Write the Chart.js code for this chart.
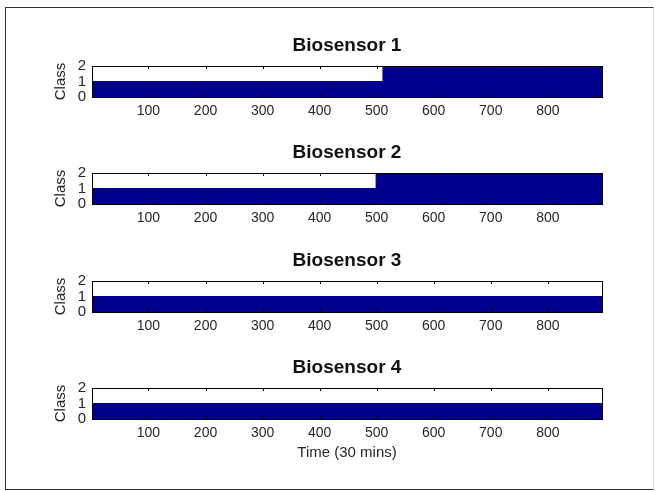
<!DOCTYPE html>
<html>
<head>
<meta charset="utf-8">
<script src="https://cdn.jsdelivr.net/npm/chart.js@4.4.0/dist/chart.umd.min.js"></script>
<style>
  body { margin: 0; background: #fff; width: 657px; height: 491px; overflow: hidden; position: relative; }
  #frame { position: absolute; left: 5px; top: 7px; width: 647px; height: 481px;
           border: 1px solid #333; border-right-color: #ddd; }
  canvas { position: absolute; left: 0; }
</style>
</head>
<body>
<div id="frame"></div>
<canvas id="c1" width="657" height="101" style="top:26px"></canvas>
<canvas id="c2" width="657" height="101" style="top:133px"></canvas>
<canvas id="c3" width="657" height="101" style="top:241px"></canvas>
<canvas id="c4" width="657" height="118" style="top:348px"></canvas>
<script>
// titles
const sensorNames = ['Biosensor 1', 'Biosensor 2', 'Biosensor 3', 'Biosensor 4'];

// class value per sensor, held from each change time until the next one
const times1 = [1, 511, 895];
const classes1 = [1, 2, 2];
const times2 = [1, 499, 895];
const classes2 = [1, 2, 2];
const times3 = [1, 895];
const classes3 = [1, 1];
const times4 = [1, 895];
const classes4 = [1, 1];

const xTicks = [100, 200, 300, 400, 500, 600, 700, 800];
const yTicks = [0, 1, 2];

const navy = '#00008f';
const ink = '#262626';
const sans = "'Liberation Sans', Arial, sans-serif";

// plot box and inward tick marks, like the matlab figure
const boxPlugin = {
    id: 'box',
    afterDatasetsDraw(chart) {
        const { ctx, chartArea: a, scales } = chart;
        ctx.save();
        ctx.strokeStyle = '#000';
        ctx.lineWidth = 1;
        ctx.beginPath();
        xTicks.forEach(v => {
            const px = Math.round(scales.x.getPixelForValue(v)) + 0.5;
            ctx.moveTo(px, a.top);
            ctx.lineTo(px, a.top + 3);
            ctx.moveTo(px, a.bottom);
            ctx.lineTo(px, a.bottom - 3);
        });
        yTicks.forEach(v => {
            const py = Math.round(scales.y.getPixelForValue(v)) + 0.5;
            ctx.moveTo(a.left, py);
            ctx.lineTo(a.left + 3, py);
            ctx.moveTo(a.right, py);
            ctx.lineTo(a.right - 3, py);
        });
        ctx.stroke();
        ctx.strokeRect(Math.round(a.left) + 0.5, Math.round(a.top) + 0.5,
                       Math.round(a.right - a.left), Math.round(a.bottom - a.top));
        ctx.restore();
    }
};

function makeChart(id, name, times, classes, last) {
    const ctx = document.getElementById(id).getContext('2d');
    return new Chart(ctx, {
        type: 'line',
        data: {
            datasets: [{
                label: name,
                data: times.map((t, i) => ({ x: t, y: classes[i] })),
                stepped: true,
                fill: 'origin',
                backgroundColor: navy,
                borderColor: navy,
                borderWidth: 1,
                pointRadius: 0
            }]
        },
        options: {
            responsive: false,
            animation: false,
            devicePixelRatio: 1,
            layout: { padding: { left: 0, right: 55, top: 0, bottom: 0 } },
            plugins: {
                legend: { display: false },
                tooltip: { enabled: false },
                title: {
                    display: true,
                    fullSize: false,
                    text: name,
                    color: '#111',
                    font: { family: sans, size: 19, weight: 'bold' },
                    padding: { top: 8.6, bottom: 8.6 }
                }
            },
            scales: {
                x: {
                    type: 'linear',
                    min: 1,
                    max: 895,
                    grid: { display: false, drawTicks: false },
                    border: { display: false },
                    afterBuildTicks: s => { s.ticks = xTicks.map(v => ({ value: v })); },
                    afterFit: s => { s.height = last ? 47 : 30; },
                    ticks: {
                        autoSkip: false,
                        maxRotation: 0,
                        padding: 6,
                        color: ink,
                        font: { family: sans, size: 14 }
                    },
                    title: {
                        display: last,
                        text: 'Time (30 mins)',
                        color: ink,
                        font: { family: sans, size: 15 },
                        padding: { top: 0, bottom: 4 }
                    }
                },
                y: {
                    min: 0,
                    max: 2,
                    grid: { display: false, drawTicks: false },
                    border: { display: false },
                    afterBuildTicks: s => { s.ticks = yTicks.map(v => ({ value: v })); },
                    afterFit: s => { s.width = 92; },
                    ticks: {
                        autoSkip: false,
                        padding: 6,
                        color: ink,
                        font: { family: sans, size: 15 }
                    },
                    title: {
                        display: true,
                        text: 'Class',
                        color: ink,
                        font: { family: sans, size: 15 },
                        padding: { top: 52, bottom: 0 }
                    }
                }
            }
        },
        plugins: [boxPlugin]
    });
}

makeChart('c1', sensorNames[0], times1, classes1, false);
makeChart('c2', sensorNames[1], times2, classes2, false);
makeChart('c3', sensorNames[2], times3, classes3, false);
makeChart('c4', sensorNames[3], times4, classes4, true);
</script>
</body>
</html>
